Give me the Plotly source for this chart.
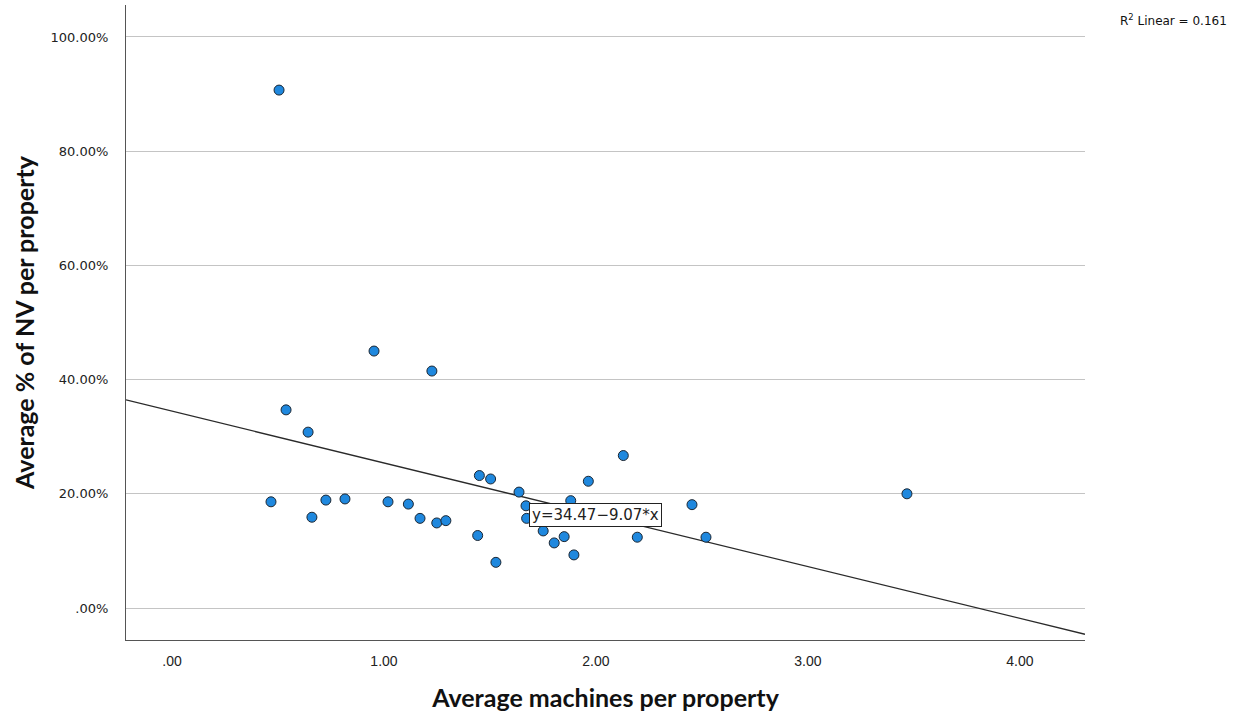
import plotly.graph_objects as go

# Data (x: average machines, y: average % of NV)
machines = [0.505, 0.953, 1.226, 0.538, 0.642, 0.467, 0.660, 0.726, 0.816, 1.019,
            1.115, 1.170, 1.249, 1.292, 1.442, 1.528, 1.450, 1.503, 1.637, 1.670,
            1.673, 1.751, 1.803, 1.850, 1.896, 1.881, 1.964, 2.129, 2.195, 2.453,
            2.519, 3.467]
nv_pct = [90.7, 45.0, 41.5, 34.7, 30.8, 18.6, 15.9, 18.9, 19.1, 18.6,
          18.2, 15.7, 14.9, 15.3, 12.7, 8.0, 23.2, 22.6, 20.3, 17.9,
          15.7, 13.5, 11.4, 12.5, 9.3, 18.8, 22.2, 26.7, 12.4, 18.1,
          12.4, 20.0]

fit_intercept = 34.47
fit_slope = -9.07
r_squared = 0.161

x_range = [-0.217, 4.307]
y_range = [-5.6, 105.6]

x_tickvals = [0, 1, 2, 3, 4]
x_ticktext = [".00", "1.00", "2.00", "3.00", "4.00"]
y_tickvals = [0, 20, 40, 60, 80, 100]
y_ticktext = [".00%", "20.00%", "40.00%", "60.00%", "80.00%", "100.00%"]

fit_x = x_range
fit_y = [fit_intercept + fit_slope * v for v in fit_x]

narrow = "Liberation Sans Narrow, Arial Narrow, sans-serif"
title_font = "Lato, Roboto, sans-serif"

fig = go.Figure()
fig.add_trace(go.Scatter(
    x=fit_x, y=fit_y, mode="lines",
    line=dict(color="#2a2a2a", width=1.3),
    hoverinfo="skip", showlegend=False,
))
fig.add_trace(go.Scatter(
    x=machines, y=nv_pct, mode="markers",
    marker=dict(size=10, color="#1f88de", line=dict(color="#1c2733", width=1)),
    showlegend=False,
))

fig.add_annotation(
    x=1.684, y=16.3, xref="x", yref="y", xanchor="left", yanchor="middle",
    text=f"y={fit_intercept:.2f}\u2212{abs(fit_slope):.2f}*x",
    showarrow=False, bgcolor="white", bordercolor="#222", borderwidth=1,
    borderpad=2, font=dict(family="DejaVu Sans, sans-serif", size=15, color="#222"),
)
fig.add_annotation(
    x=(1229 - 126) / (1085 - 126), y=(640 - 20) / (640 - 5),
    xref="paper", yref="paper", xanchor="right", yanchor="middle",
    showarrow=False,
    text=f"R<sup>2</sup> Linear = {r_squared:.3f}",
    font=dict(family="DejaVu Sans, sans-serif", size=12, color="#111"),
)

fig.update_layout(
    width=1238, height=717,
    margin=dict(l=126, r=153, t=5, b=77),
    paper_bgcolor="white", plot_bgcolor="white",
    xaxis=dict(
        range=x_range, tickvals=x_tickvals, ticktext=x_ticktext,
        showgrid=False, zeroline=False, showline=True, linecolor="#555",
        linewidth=1, ticks="", ticklabelstandoff=8,
        tickfont=dict(family=narrow, size=14, color="#222"),
        title=dict(text="<b>Average machines per property</b>",
                   font=dict(family=title_font, size=25, color="#111"), standoff=21),
    ),
    yaxis=dict(
        range=y_range, tickvals=y_tickvals, ticktext=y_ticktext,
        showgrid=True, gridcolor="#c4c4c4", gridwidth=1, zeroline=False,
        showline=True, linecolor="#555", linewidth=1, ticks="",
        ticklabelstandoff=14,
        tickfont=dict(family="DejaVu Sans, sans-serif", size=13, color="#222"),
        title=dict(text="<b>Average % of NV per property</b>",
                   font=dict(family=title_font, size=25, color="#111"), standoff=8),
    ),
)

fig.write_html("out.html", config={"displayModeBar": False},
               post_script="document.body.style.margin='0';")
